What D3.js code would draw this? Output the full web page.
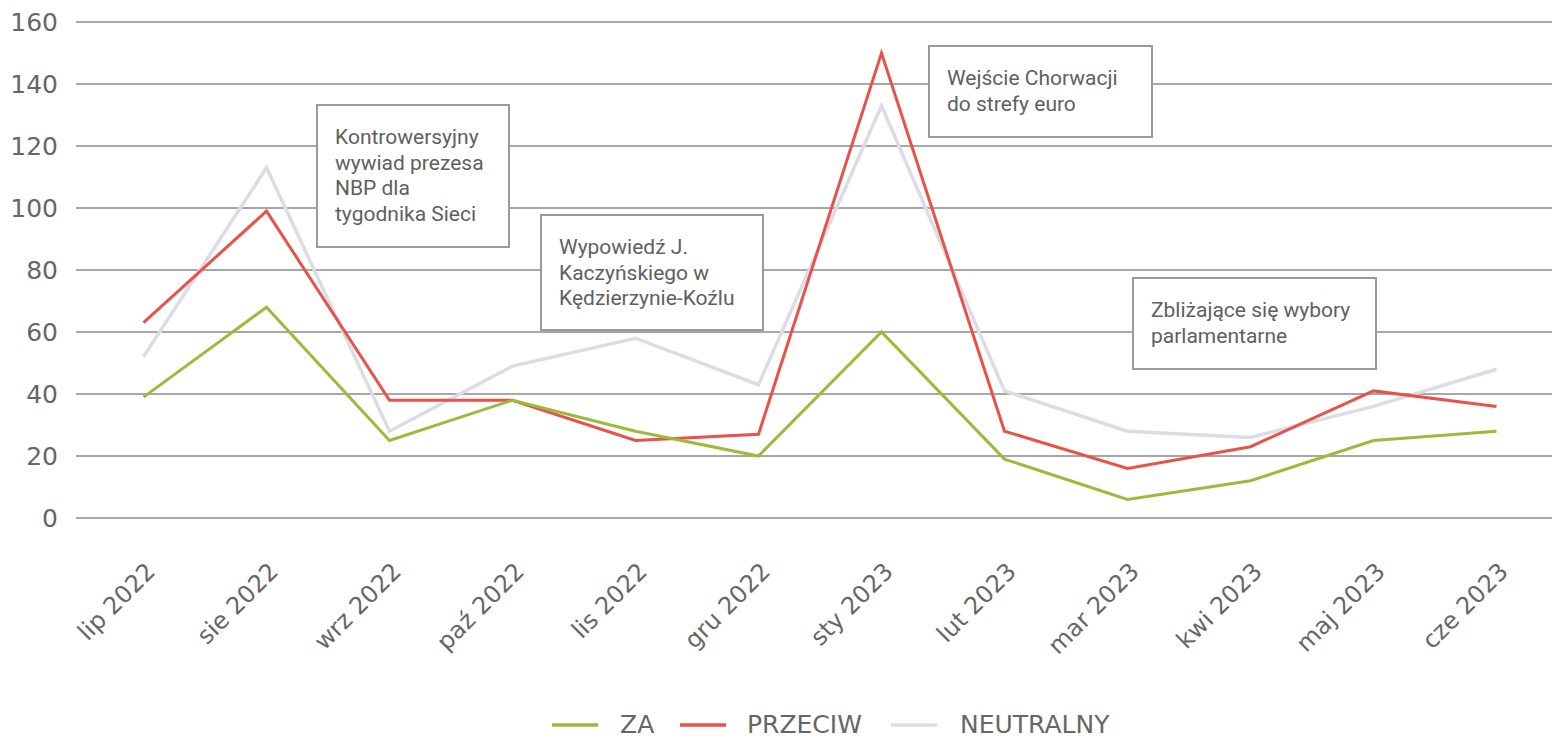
<!DOCTYPE html>
<html>
<head>
<meta charset="utf-8">
<script src="https://cdn.jsdelivr.net/npm/d3@7"></script>
<style>
  body { margin: 0; background: #fff; }
  svg { display: block; }
</style>
</head>
<body>
<div id="chart"></div>
<script>
// Chart data
const months = ["lip 2022", "sie 2022", "wrz 2022", "paź 2022", "lis 2022", "gru 2022",
                "sty 2023", "lut 2023", "mar 2023", "kwi 2023", "maj 2023", "cze 2023"];
const za = [39, 68, 25, 38, 28, 20, 60, 19, 6, 12, 25, 28];
const przeciw = [63, 99, 38, 38, 25, 27, 150, 28, 16, 23, 41, 36];
const neutralny = [52, 113, 28, 49, 58, 43, 133, 41, 28, 26, 36, 48];
const yTicks = [0, 20, 40, 60, 80, 100, 120, 140, 160];

const seriesNames = ["ZA", "PRZECIW", "NEUTRALNY"];
const seriesColors = { "ZA": "#9bbb3b", "PRZECIW": "#e8524a", "NEUTRALNY": "#dcdde4" };

// Annotation texts
const notes = [
  ["Kontrowersyjny", "wywiad prezesa", "NBP dla", "tygodnika Sieci"],
  ["Wypowiedź J.", "Kaczyńskiego w", "Kędzierzynie-Koźlu"],
  ["Wejście Chorwacji", "do strefy euro"],
  ["Zbliżające się wybory", "parlamentarne"]
];
// box placement (pixel layout)
const noteBoxes = [
  { x: 317, y: 105, w: 192, h: 142 },
  { x: 541, y: 215, w: 222, h: 115 },
  { x: 929, y: 46, w: 223, h: 91 },
  { x: 1133, y: 278, w: 243, h: 91 }
];

const width = 1552, height = 740;
const svg = d3.select('#chart').append('svg')
  .attr('width', width)
  .attr('height', height);

const x = d3.scaleBand()
  .domain(months)
  .range([82, 1558]);

const y = d3.scaleLinear()
  .domain([0, 160])
  .range([518, 22]);

const textColor = "#666666";

// gridlines
svg.append('g')
  .selectAll('line')
  .data(yTicks)
  .enter()
  .append('line')
  .attr('x1', 76)
  .attr('x2', 1552)
  .attr('y1', d => y(d))
  .attr('y2', d => y(d))
  .attr('stroke', '#8a8a8a')
  .attr('stroke-width', 1.5);

// y axis labels
svg.append('g')
  .selectAll('text')
  .data(yTicks)
  .enter()
  .append('text')
  .attr('x', 58)
  .attr('y', d => y(d))
  .attr('dy', '0.36em')
  .attr('text-anchor', 'end')
  .attr('font-family', 'DejaVu Sans')
  .attr('font-size', '25px')
  .attr('fill', textColor)
  .text(d => d);

// x axis labels, rotated
svg.append('g')
  .selectAll('text')
  .data(months)
  .enter()
  .append('text')
  .attr('transform', d => `translate(${x(d) + x.bandwidth() / 2 + 13}, 573) rotate(-45)`)
  .attr('text-anchor', 'end')
  .attr('font-family', 'DejaVu Sans')
  .attr('font-size', '24px')
  .attr('fill', textColor)
  .text(d => d);

// series lines
const seriesData = { "ZA": za, "PRZECIW": przeciw, "NEUTRALNY": neutralny };
const line = d3.line()
  .x((d, i) => x(months[i]) + x.bandwidth() / 2)
  .y(d => y(d));

["NEUTRALNY", "PRZECIW", "ZA"].forEach(name => {
  svg.append('path')
    .datum(seriesData[name])
    .attr('d', line)
    .attr('fill', 'none')
    .attr('stroke', seriesColors[name])
    .attr('stroke-width', name === "NEUTRALNY" ? 3.5 : 3)
    .attr('stroke-linejoin', 'miter');
});

// annotations
notes.forEach((lines, i) => {
  const b = noteBoxes[i];
  const g = svg.append('g');
  g.append('rect')
    .attr('x', b.x)
    .attr('y', b.y)
    .attr('width', b.w)
    .attr('height', b.h)
    .attr('fill', '#fff')
    .attr('stroke', '#9a9a9a')
    .attr('stroke-width', 2);
  g.selectAll('text')
    .data(lines)
    .enter()
    .append('text')
    .attr('x', b.x + 18)
    .attr('y', (d, j) => b.y + 39 + j * 25.7)
    .attr('font-family', 'Roboto')
    .attr('font-size', '21px')
    .attr('fill', '#606060')
    .text(d => d);
});

// legend
const legendItems = [
  { name: "ZA", lx: 552, tx: 620 },
  { name: "PRZECIW", lx: 680, tx: 747 },
  { name: "NEUTRALNY", lx: 891, tx: 960 }
];
const legend = svg.append('g');
legendItems.forEach(it => {
  legend.append('line')
    .attr('x1', it.lx)
    .attr('x2', it.lx + 46)
    .attr('y1', 725)
    .attr('y2', 725)
    .attr('stroke', seriesColors[it.name])
    .attr('stroke-width', 3.5);
  legend.append('text')
    .attr('x', it.tx)
    .attr('y', 733)
    .attr('font-family', 'DejaVu Sans')
    .attr('font-size', '25px')
    .attr('fill', textColor)
    .text(it.name);
});
</script>
</body>
</html>
